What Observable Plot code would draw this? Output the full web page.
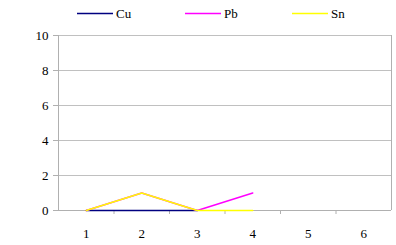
<!DOCTYPE html>
<html><head><meta charset="utf-8">
<script src="https://cdn.jsdelivr.net/npm/d3@7"></script>
<script src="https://cdn.jsdelivr.net/npm/@observablehq/plot@0.6"></script>
<style>
body{margin:0;background:#fff;}
svg, svg text{font-family:'Liberation Serif','DejaVu Serif',serif !important;}
</style></head><body>
<div id="wrap"></div>
<script>
const categories = [1, 2, 3, 4, 5, 6];
const seriesNames = ["Cu", "Pb", "Sn"];
const colors = ["#000080", "#ff00ff", "#ffff00"];
const cu = [0, 0, 0];
const pb = [0, 1, 0, 1];
const sn = [0, 1, 0, 0];
const yTicks = [0, 2, 4, 6, 8, 10];

const FONT = "'Liberation Serif', 'DejaVu Serif', serif";
const rows = [];
[cu, pb, sn].forEach((vals, i) => vals.forEach((v, j) => rows.push({s: seriesNames[i], x: categories[j], y: v})));
const bounds = categories.slice(0, -1).map(c => c + 0.5);

const chart = Plot.plot({
  width: 396, height: 245,
  marginLeft: 58, marginRight: 5, marginTop: 35, marginBottom: 35,
  style: {fontFamily: FONT, fontSize: "13px", background: "#fff"},
  x: {domain: [categories[0] - 0.5, categories[categories.length - 1] + 0.5], axis: null, label: null},
  y: {domain: [0, 10], axis: null, label: null},
  color: {domain: seriesNames, range: colors},
  marks: [
    Plot.gridY(yTicks, {stroke: "#c0c0c0", strokeOpacity: 1}),
    Plot.ruleX([categories[0] - 0.5, categories[categories.length - 1] + 0.5], {stroke: "#b0b0b0"}),
    Plot.ruleY([0], {stroke: "#b0b0b0"}),
    Plot.axisY(yTicks, {tickSize: 5, tickPadding: 5, stroke: "#b0b0b0", fill: "#000", fontSize: 13, label: null}),
    Plot.axisX(bounds, {tickSize: 4, tickFormat: () => "", stroke: "#b0b0b0", label: null}),
    Plot.axisX(categories, {tickSize: 0, tickPadding: 18, fill: "#000", fontSize: 13, label: null}),
    Plot.lineY(rows, {x: "x", y: "y", z: "s", stroke: "s", strokeWidth: 1.5})
  ]
});
document.getElementById("wrap").appendChild(chart);
const svg = d3.select(chart);
svg.attr("font-family", FONT);
svg.selectAll("text").attr("font-family", FONT);
const legX = [77, 185, 292];
const lg = svg.append("g").attr("font-family", FONT).attr("font-size", 13).attr("text-anchor", "start");
seriesNames.forEach((n, i) => {
  lg.append("line").attr("x1", legX[i]).attr("x2", legX[i] + 36).attr("y1", 13.5).attr("y2", 13.5)
    .attr("stroke", colors[i]).attr("stroke-width", 1.5);
  lg.append("text").attr("x", legX[i] + 39).attr("y", 13.5).attr("dy", "0.35em")
    .attr("text-anchor", "start").attr("fill", "#000").attr("font-family", FONT).text(n);
});
</script>
</body></html>
